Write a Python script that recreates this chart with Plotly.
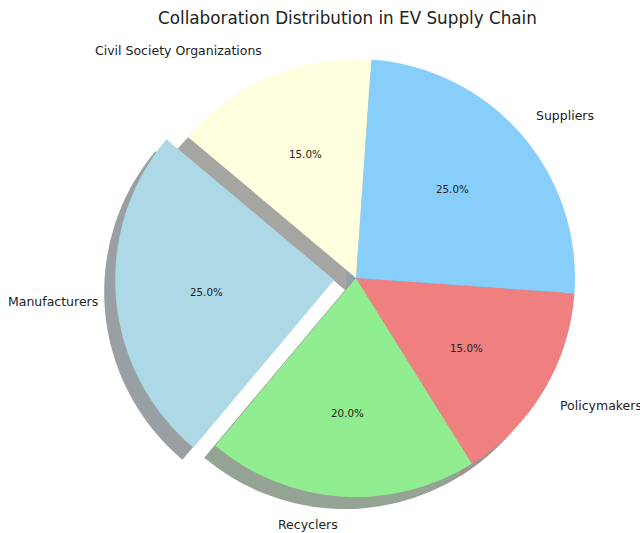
import math
import plotly.graph_objects as go

# ---- data ----
labels = ["Manufacturers", "Recyclers", "Policymakers", "Suppliers", "Civil Society Organizations"]
sizes = [25, 20, 15, 25, 15]
colors = ["#ADD8E6", "#90EE90", "#F08080", "#87CEFA", "#FFFFE0"]
explode = [0.1, 0, 0, 0, 0]
title_text = "Collaboration Distribution in EV Supply Chain"

# ---- geometry (pixels) ----
W, H = 640, 533
cx, cy = 356, 278          # pie centre in pixels (from top-left)
R = 219                    # pie radius in pixels
RX, RY = 214, 225          # text placement radii (reference is slightly elliptical)
start_angle = 140          # degrees, counter-clockwise from 3 o'clock
shadow_dx, shadow_dy = -11, 12
maxpull = max(explode)
half = R * (1 + maxpull)
total = sum(sizes)
first_end = start_angle + 360 * sizes[0] / total


def dom(dx=0, dy=0):
    x0 = (cx + dx - half) / W
    x1 = (cx + dx + half) / W
    y0 = 1 - (cy + dy + half) / H
    y1 = 1 - (cy + dy - half) / H
    return dict(x=[x0, x1], y=[y0, y1])


def rgba_shadow(hexc):
    r = int(hexc[1:3], 16); g = int(hexc[3:5], 16); b = int(hexc[5:7], 16)
    return f"rgba({int(r*0.3)},{int(g*0.3)},{int(b*0.3)},0.5)"


fig = go.Figure()

common = dict(labels=labels, values=sizes, sort=False, direction="counterclockwise",
              rotation=90 - first_end, pull=explode, textinfo="none",
              hoverinfo="skip", showlegend=False)

# shadow
fig.add_trace(go.Pie(**common, domain=dom(shadow_dx, shadow_dy),
                     marker=dict(colors=[rgba_shadow(c) for c in colors], line=dict(width=0))))
# main pie
fig.add_trace(go.Pie(**common, domain=dom(),
                     marker=dict(colors=colors, line=dict(width=0))))

# ---- text labels positioned from data ----
annotations = []
theta = start_angle
for lab, val, ex in zip(labels, sizes, explode):
    span = 360 * val / total
    mid = math.radians(theta + span / 2)
    theta += span
    ox = cx + ex * RX * math.cos(mid)
    oy = cy - ex * RY * math.sin(mid)
    # percent label
    px = ox + 0.6 * RX * math.cos(mid)
    py = oy - 0.6 * RY * math.sin(mid)
    annotations.append(dict(x=px / W, y=1 - py / H, xref="paper", yref="paper",
                            text=f"{100*val/total:.1f}%", showarrow=False,
                            xanchor="center", yanchor="middle",
                            font=dict(family="DejaVu Sans", size=10.3, color="#222")))
    # category label
    lx = ox + 1.1 * RX * math.cos(mid)
    ly = oy - 1.1 * RY * math.sin(mid)
    anchor = "left" if math.cos(mid) > 0 else "right"
    annotations.append(dict(x=lx / W, y=1 - ly / H, xref="paper", yref="paper",
                            text=lab, showarrow=False, xanchor=anchor, yanchor="middle",
                            font=dict(family="DejaVu Sans", size=12.5, color="#222")))

annotations.append(dict(x=347.5 / W, y=1 - 18 / H, xref="paper", yref="paper",
                        text=title_text, showarrow=False, xanchor="center", yanchor="middle",
                        font=dict(family="DejaVu Sans", size=16.8, color="#222")))

fig.update_layout(width=W, height=H, margin=dict(l=0, r=0, t=0, b=0),
                  paper_bgcolor="white", plot_bgcolor="white",
                  annotations=annotations)

fig.write_html("out.html")
